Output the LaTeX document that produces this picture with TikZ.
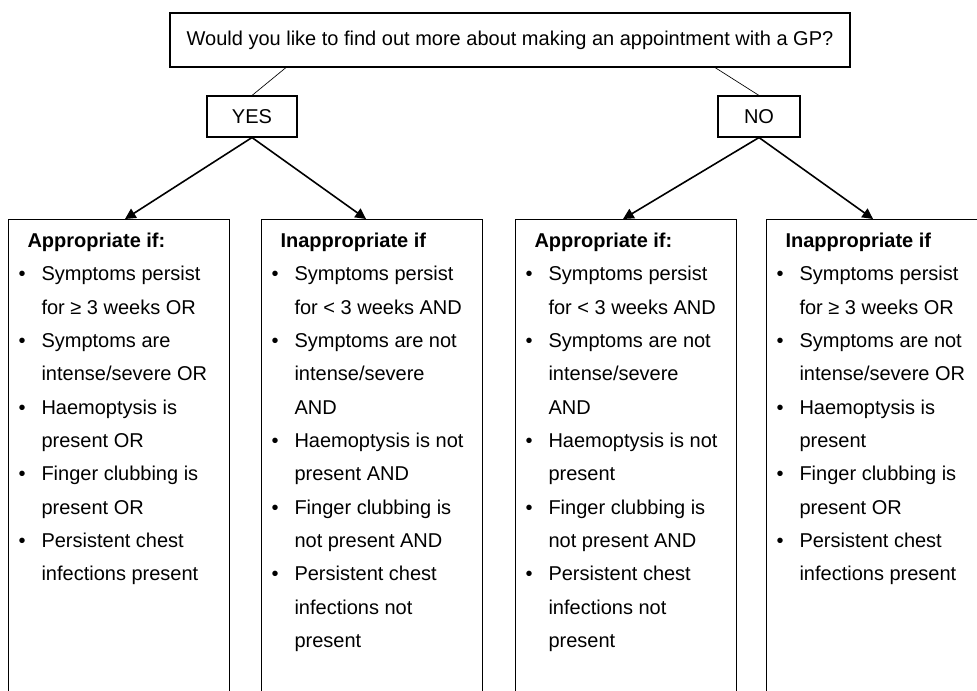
\documentclass[tikz,border=0pt]{standalone}
\usepackage{fontspec}
\setmainfont{Liberation Sans}
\usetikzlibrary{arrows.meta}
\newdimen\px \px=0.75pt
\newcommand{\bul}{\makebox[25\px][l]{\hspace*{2\px}\textbullet}}
\newcommand{\ind}{\hspace*{25\px}}
\newcommand{\head}[1]{\rule{0pt}{28\px}\hspace*{11\px}\textbf{#1}}

\begin{document}
\begin{tikzpicture}[x=0.75pt,y=-0.75pt,
	every node/.style={font=\fontsize{15}{25}\selectfont},
	askbox/.style={draw, line width=0.8pt, minimum width=680\px, minimum height=54\px, inner sep=0pt},
	ansbox/.style={draw, line width=0.8pt, minimum height=41\px, inner sep=0pt},
	listbox/.style={draw, line width=0.8pt, anchor=north west, inner xsep=8\px, inner ysep=0pt},
	link/.style={line width=0.5pt},
	arr/.style={line width=1.2pt, -{Triangle[length=8pt,width=8pt]}}]
		%%%%% START %%%%%
		\useasboundingbox (0,0) rectangle (977,691);
		\clip (0,0) rectangle (977,691);
		
		\node[askbox] (ask) at (510,40) {Would you like to find out more about making an appointment with a GP?};
		
		\node[ansbox, minimum width=90\px] (yes) at (252,116.5) {YES};
		\node[ansbox, minimum width=82\px] (no) at (759,116.5) {NO};
		
		\draw[link] ([xshift=-224\px]ask.south) -- (yes.north);
		\draw[link] ([xshift=205\px]ask.south) -- (no.north);
		
		\node[listbox] (yesapp) at (8,219) {\parbox[t][500\px][t]{205\px}{%
			\head{Appropriate if:}\\
			\bul Symptoms persist\\
			\ind for ≥ 3 weeks OR\\
			\bul Symptoms are\\
			\ind intense/severe OR\\
			\bul Haemoptysis is\\
			\ind present OR\\
			\bul Finger clubbing is\\
			\ind present OR\\
			\bul Persistent chest\\
			\ind infections present}};
		
		\node[listbox] (yesinapp) at (261,219) {\parbox[t][500\px][t]{205\px}{%
			\head{Inappropriate if}\\
			\bul Symptoms persist\\
			\ind for < 3 weeks AND\\
			\bul Symptoms are not\\
			\ind intense/severe\\
			\ind AND\\
			\bul Haemoptysis is not\\
			\ind present AND\\
			\bul Finger clubbing is\\
			\ind not present AND\\
			\bul Persistent chest\\
			\ind infections not\\
			\ind present}};
		
		\node[listbox] (noapp) at (515,219) {\parbox[t][500\px][t]{205\px}{%
			\head{Appropriate if:}\\
			\bul Symptoms persist\\
			\ind for < 3 weeks AND\\
			\bul Symptoms are not\\
			\ind intense/severe\\
			\ind AND\\
			\bul Haemoptysis is not\\
			\ind present\\
			\bul Finger clubbing is\\
			\ind not present AND\\
			\bul Persistent chest\\
			\ind infections not\\
			\ind present}};
		
		\node[listbox] (noinapp) at (766,219) {\parbox[t][500\px][t]{205\px}{%
			\head{Inappropriate if}\\
			\bul Symptoms persist\\
			\ind for ≥ 3 weeks OR\\
			\bul Symptoms are not\\
			\ind intense/severe OR\\
			\bul Haemoptysis is\\
			\ind present\\
			\bul Finger clubbing is\\
			\ind present OR\\
			\bul Persistent chest\\
			\ind infections present}};
		
		\draw[arr] (yes.south) -- ([xshift=6\px]yesapp.north);
		\draw[arr] (yes.south) -- ([xshift=-6\px]yesinapp.north);
		\draw[arr] (no.south) -- ([xshift=-3\px]noapp.north);
		\draw[arr] (no.south) -- ([xshift=-4\px]noinapp.north);
		%%%%% END %%%%%
\end{tikzpicture}
\end{document}
